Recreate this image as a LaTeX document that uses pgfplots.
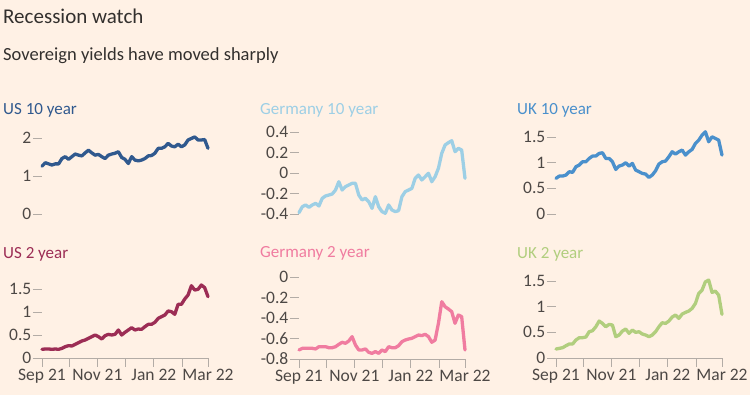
\documentclass[border=0pt]{standalone}
\usepackage{pgfplots}
\pgfplotsset{compat=1.18}
\usepackage{fontspec}
\setmainfont{Carlito}
\definecolor{bg}{HTML}{FFF1E5}
\definecolor{titlec}{HTML}{33302E}
\definecolor{labc}{HTML}{4D4845}
\definecolor{tickc}{HTML}{B3ACA6}
\definecolor{usten}{HTML}{30598E}
\definecolor{deten}{HTML}{9DCFE5}
\definecolor{ukten}{HTML}{4A90CC}
\definecolor{ustwo}{HTML}{9C2D55}
\definecolor{detwo}{HTML}{F07CA0}
\definecolor{uktwo}{HTML}{B1CE7E}

\pgfplotstableread{
x usten deten ukten ustwo detwo uktwo
0 1.26 -0.387 0.695 0.188 -0.712 0.175
1 1.35 -0.329 0.740 0.196 -0.696 0.188
2 1.32 -0.312 0.740 0.196 -0.696 0.201
3 1.29 -0.335 0.760 0.188 -0.696 0.240
4 1.32 -0.312 0.825 0.196 -0.696 0.273
5 1.32 -0.296 0.812 0.188 -0.702 0.273
6 1.46 -0.322 0.922 0.210 -0.680 0.351
7 1.51 -0.247 0.955 0.246 -0.680 0.396
8 1.44 -0.224 1.019 0.268 -0.680 0.396
9 1.51 -0.215 1.019 0.261 -0.690 0.409
10 1.58 -0.205 1.084 0.297 -0.690 0.513
11 1.55 -0.166 1.130 0.333 -0.680 0.532
12 1.53 -0.085 1.130 0.370 -0.657 0.610
13 1.61 -0.166 1.182 0.391 -0.637 0.721
14 1.68 -0.133 1.195 0.428 -0.647 0.675
15 1.61 -0.117 1.084 0.464 -0.624 0.610
16 1.55 -0.101 1.084 0.500 -0.582 0.656
17 1.57 -0.101 1.019 0.464 -0.663 0.643
18 1.51 -0.215 0.870 0.413 -0.712 0.416
19 1.46 -0.263 0.935 0.486 -0.712 0.448
20 1.55 -0.247 0.955 0.514 -0.702 0.526
21 1.58 -0.280 1.000 0.500 -0.735 0.565
22 1.60 -0.345 0.935 0.514 -0.745 0.481
23 1.64 -0.231 0.987 0.609 -0.728 0.545
24 1.49 -0.329 0.857 0.500 -0.745 0.500
25 1.44 -0.377 0.825 0.558 -0.712 0.513
26 1.33 -0.393 0.792 0.609 -0.728 0.468
27 1.51 -0.312 0.779 0.659 -0.680 0.448
28 1.42 -0.361 0.714 0.609 -0.690 0.416
29 1.40 -0.377 0.760 0.630 -0.690 0.448
30 1.42 -0.367 0.844 0.623 -0.670 0.513
31 1.46 -0.231 0.974 0.681 -0.631 0.610
32 1.53 -0.182 1.019 0.732 -0.615 0.688
33 1.54 -0.166 1.033 0.732 -0.605 0.675
34 1.60 -0.150 1.117 0.775 -0.598 0.721
35 1.73 -0.052 1.214 0.862 -0.582 0.799
36 1.73 -0.020 1.169 0.899 -0.566 0.838
37 1.77 -0.068 1.214 0.935 -0.572 0.773
38 1.86 -0.036 1.247 1.022 -0.559 0.857
39 1.79 -0.003 1.149 1.007 -0.582 0.890
40 1.77 -0.085 1.214 0.949 -0.637 0.916
41 1.84 -0.036 1.260 1.167 -0.615 0.968
42 1.77 0.046 1.377 1.167 -0.452 1.065
43 1.82 0.192 1.442 1.283 -0.241 1.260
44 1.95 0.273 1.539 1.370 -0.290 1.325
45 1.99 0.296 1.604 1.572 -0.312 1.487
46 2.03 0.315 1.409 1.478 -0.338 1.520
47 1.95 0.208 1.506 1.493 -0.452 1.279
48 1.95 0.241 1.474 1.587 -0.371 1.305
49 1.96 0.224 1.442 1.529 -0.387 1.227
50 1.73 -0.052 1.149 1.333 -0.712 0.851
}\yields

\pgfplotsset{
  panel/.style={
    scale only axis, width=166pt, height=82pt,
    xmin=0, xmax=50, clip=false,
    axis x line*=bottom, axis y line*=left,
    y axis line style={draw=none},
    tick style={draw=tickc, line width=0.9pt},
    major tick length=9pt, tick align=outside,
    ticklabel style={font=\fontsize{17.5}{19}\selectfont, text=labc},
    yticklabel style={inner sep=1.5pt},
    xticklabel style={inner sep=2pt},
  },
  toprow/.style={panel, xtick=\empty, x axis line style={draw=none}},
  botrow/.style={panel, x axis line style={draw=tickc, line width=0.9pt},
    xtick={0,8.2,16.7,25.1,33.7,42.2,50},
    xticklabels={Sep 21,,Nov 21,,Jan 22,,Mar 22}},
  ser/.style={line width=3.3pt, line join=round, line cap=round, #1},
}

\begin{document}
\begin{tikzpicture}
\useasboundingbox (0,0) rectangle (750pt,395pt);
\fill[bg] (0,0) rectangle (750pt,395pt);
\node[anchor=base west, inner sep=0pt, text=titlec, font=\fontsize{21}{24}\selectfont] at (3pt,371pt) {Recession watch};
\node[anchor=base west, inner sep=0pt, text=titlec, font=\fontsize{18.5}{21}\selectfont] at (3pt,334pt) {Sovereign yields have moved sharply};

\node[anchor=base west, inner sep=0pt, text=usten, font=\fontsize{17}{19}\selectfont] at (3pt,280pt) {US 10 year};
\node[anchor=base west, inner sep=0pt, text=deten, font=\fontsize{17}{19}\selectfont] at (260pt,280pt) {Germany 10 year};
\node[anchor=base west, inner sep=0pt, text=ukten, font=\fontsize{17}{19}\selectfont] at (517pt,280pt) {UK 10 year};
\node[anchor=base west, inner sep=0pt, text=ustwo, font=\fontsize{17}{19}\selectfont] at (3pt,136pt) {US 2 year};
\node[anchor=base west, inner sep=0pt, text=detwo, font=\fontsize{17}{19}\selectfont] at (260pt,137pt) {Germany 2 year};
\node[anchor=base west, inner sep=0pt, text=uktwo, font=\fontsize{17}{19}\selectfont] at (517pt,136pt) {UK 2 year};

\begin{axis}[toprow, at={(42pt,181pt)}, anchor=south west,
  ymin=0, ymax=2.16, ytick={0,1,2}, yticklabels={0,1,2}]
\addplot[ser=usten] table[x=x,y=usten] {\yields};
\end{axis}

\begin{axis}[toprow, at={(299pt,181pt)}, anchor=south west,
  ymin=-0.4, ymax=0.4, ytick={-0.4,-0.2,0,0.2,0.4}, yticklabels={-0.4,-0.2,0,0.2,0.4}]
\addplot[ser=deten] table[x=x,y=deten] {\yields};
\end{axis}

\begin{axis}[toprow, at={(556pt,181pt)}, anchor=south west,
  ymin=0, ymax=1.6, ytick={0,0.5,1,1.5}, yticklabels={0,0.5,1,1.5}]
\addplot[ser=ukten] table[x=x,y=ukten] {\yields};
\end{axis}

\begin{axis}[botrow, at={(42pt,37pt)}, anchor=south west,
  ymin=0, ymax=1.783, ytick={0,0.5,1,1.5}, yticklabels={0,0.5,1,1.5}]
\addplot[ser=ustwo] table[x=x,y=ustwo] {\yields};
\end{axis}

\begin{axis}[botrow, at={(299pt,36pt)}, anchor=south west,
  ymin=-0.8, ymax=0, ytick={-0.8,-0.6,-0.4,-0.2,0}, yticklabels={-0.8,-0.6,-0.4,-0.2,0}]
\addplot[ser=detwo] table[x=x,y=detwo] {\yields};
\end{axis}

\begin{axis}[botrow, at={(556pt,37pt)}, anchor=south west,
  ymin=0, ymax=1.6, ytick={0,0.5,1,1.5}, yticklabels={0,0.5,1,1.5}]
\addplot[ser=uktwo] table[x=x,y=uktwo] {\yields};
\end{axis}
\end{tikzpicture}
\end{document}
